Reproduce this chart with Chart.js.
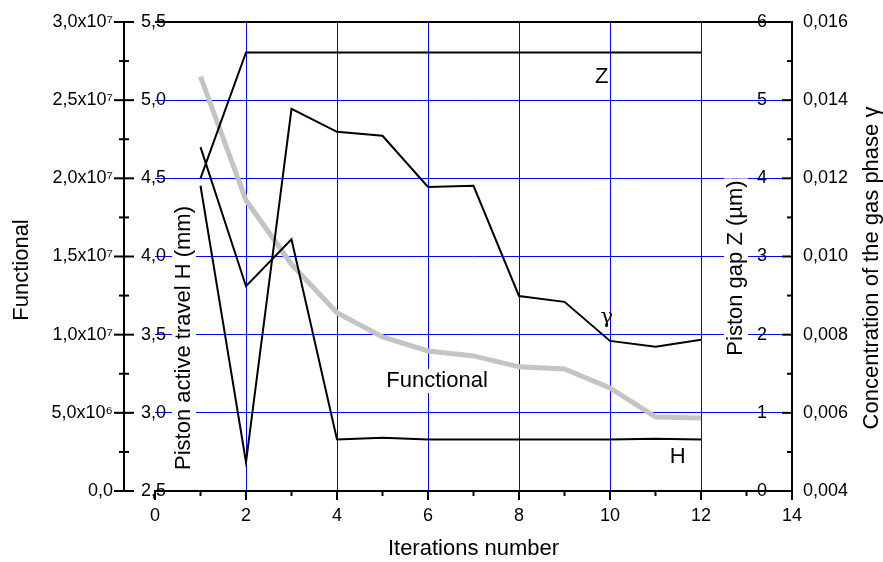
<!DOCTYPE html>
<html>
<head>
<meta charset="utf-8">
<script src="https://cdn.jsdelivr.net/npm/chart.js@4/dist/chart.umd.min.js"></script>
<style>
  html, body { margin: 0; padding: 0; background: #fff; }
</style>
</head>
<body>
<canvas id="chart" width="883" height="562"></canvas>
<script>
// data
const iterations = [1, 2, 3, 4, 5, 6, 7, 8, 9, 10, 11, 12];
const functionalValues = [2.65e7, 1.86e7, 1.45e7, 1.14e7, 9.86e6, 8.96e6, 8.64e6, 7.94e6, 7.81e6, 6.59e6, 4.74e6, 4.67e6];
const travelH = [4.70, 3.81, 4.11, 2.83, 2.84, 2.83, 2.83, 2.83, 2.83, 2.83, 2.835, 2.83];
const gapZ = [4.0, 5.61, 5.61, 5.61, 5.61, 5.61, 5.61, 5.61, 5.61, 5.61, 5.61, 5.61];
const gasGamma = [0.01181, 0.00474, 0.01378, 0.01319, 0.01309, 0.01178, 0.01181, 0.00899, 0.00884, 0.00784, 0.00769, 0.00787];

// curve labels: [text, x value, axis, axis value]
const curveLabels = [
    ['Z', 9.82, 'yZ', 5.30],
    ['\u03B3', 9.93, 'yG', 0.00843],
    ['Functional', 6.2, 'yF', 7.04e6],
    ['H', 11.49, 'yH', 2.718]
];

const FONT = '"Liberation Sans", Arial, sans-serif';
const BLUE = '#0000ff';

function comma(v, digits) {
    return v.toFixed(digits).replace('.', ',');
}

// 3,0x10^7 style labels
function sciLabel(v) {
    if (v === 0) return '0,0';
    const sup = { 6: '\u2076', 7: '\u2077' };
    const exp = Math.floor(Math.log10(v) + 1e-9);
    return comma(v / Math.pow(10, exp), 1) + 'x10' + sup[exp];
}

function seg(ctx, x1, y1, x2, y2) {
    ctx.beginPath();
    ctx.moveTo(x1, y1);
    ctx.lineTo(x2, y2);
    ctx.stroke();
}

function vText(ctx, text, x, y, box) {
    ctx.save();
    ctx.translate(x, y);
    ctx.rotate(-Math.PI / 2);
    ctx.font = '22px ' + FONT;
    ctx.textAlign = 'center';
    ctx.textBaseline = 'middle';
    if (box) {
        const w = ctx.measureText(text).width;
        ctx.fillStyle = '#fff';
        ctx.fillRect(-w / 2 - 2, -12, w + 4, 24);
    }
    ctx.fillStyle = '#000';
    ctx.fillText(text, 0, 0);
    ctx.restore();
}

// axis titles and curve labels
const labelsPlugin = {
    id: 'labels',
    beforeDatasetsDraw(chart) {
        const ctx = chart.ctx;
        vText(ctx, 'Functional', 22, 270, false);
        vText(ctx, 'Piston active travel H (mm)', 184, 338, true);
        vText(ctx, 'Piston gap Z (\u00B5m)', 736, 268, true);
        vText(ctx, 'Concentration of the gas phase \u03B3', 872, 268, false);

        ctx.save();
        ctx.textAlign = 'center';
        ctx.textBaseline = 'middle';
        curveLabels.forEach(l => {
            const px = chart.scales.x.getPixelForValue(l[1]);
            const py = chart.scales[l[2]].getPixelForValue(l[3]);
            ctx.font = l[0] === '\u03B3' ? '21px "DejaVu Serif", serif' : '22px ' + FONT;
            if (l[0] === 'Functional') {
                const w = ctx.measureText(l[0]).width;
                ctx.fillStyle = '#fff';
                ctx.fillRect(px - w / 2 - 2, py - 12, w + 4, 24);
            }
            ctx.fillStyle = '#000';
            ctx.fillText(l[0], px, py);
        });
        ctx.restore();
    },
    afterDraw(chart) {
        const ctx = chart.ctx;
        const a = chart.chartArea;
        const s = chart.scales;
        ctx.save();
        ctx.strokeStyle = '#000';
        ctx.lineWidth = 2;
        seg(ctx, a.left, a.top, a.right + 1, a.top);
        // x ticks, major every 2
        for (let v = 0; v <= 14; v++) {
            const px = s.x.getPixelForValue(v);
            seg(ctx, px, a.bottom, px, a.bottom + (v % 2 ? 5 : 9));
        }
        // functional ticks cross the axis line
        const fx = s.yF.right;
        for (let i = 0; i <= 12; i++) {
            const py = s.yF.getPixelForValue(i * 2.5e6);
            const len = i % 2 ? 5 : 10;
            seg(ctx, fx - len, py, fx + len, py);
        }
        // gamma ticks point inward
        const gx = s.yG.left;
        for (let i = 0; i <= 12; i++) {
            const py = s.yG.getPixelForValue(0.004 + i * 0.001);
            seg(ctx, gx - (i % 2 ? 5 : 10), py, gx, py);
        }

        // H and Z tick labels sit on the plot edges
        ctx.fillStyle = '#000';
        ctx.font = '18px ' + FONT;
        ctx.textBaseline = 'middle';
        ctx.textAlign = 'right';
        s.yH.ticks.forEach(t => {
            ctx.fillText(comma(t.value, 1), a.left + 11, s.yH.getPixelForValue(t.value));
        });
        ctx.textAlign = 'center';
        s.yZ.ticks.forEach(t => {
            ctx.fillText(String(t.value), a.right - 30, s.yZ.getPixelForValue(t.value));
        });
        ctx.restore();
    }
};

function points(ys) {
    return iterations.map((x, i) => ({ x: x, y: ys[i] }));
}

const tickFont = { family: FONT, size: 18 };

new Chart(document.getElementById('chart'), {
    type: 'line',
    data: {
        datasets: [
            { data: points(gapZ), yAxisID: 'yZ', borderColor: '#000', borderWidth: 2, order: 1 },
            { data: points(travelH), yAxisID: 'yH', borderColor: '#000', borderWidth: 2, order: 1 },
            { data: points(gasGamma), yAxisID: 'yG', borderColor: '#000', borderWidth: 2, order: 1 },
            { data: points(functionalValues), yAxisID: 'yF', borderColor: '#c4c4c4', borderWidth: 5, order: 5 }
        ]
    },
    options: {
        responsive: false,
        animation: false,
        devicePixelRatio: 1,
        layout: { padding: { top: 22, left: 0, right: 0, bottom: 0 } },
        elements: { point: { radius: 0 }, line: { tension: 0, borderCapStyle: 'butt' } },
        plugins: { legend: { display: false }, tooltip: { enabled: false } },
        scales: {
            x: {
                type: 'linear', min: 0, max: 14,
                ticks: { stepSize: 2, font: tickFont, color: '#000', padding: 14, maxRotation: 0 },
                grid: { color: c => (c.tick.value === 0 || c.tick.value === 14) ? 'rgba(0,0,0,0)' : BLUE, drawTicks: false },
                border: { display: true, color: '#000', width: 2 },
                title: { display: true, text: 'Iterations number', font: { family: FONT, size: 22 }, color: '#000', padding: { top: 0, bottom: 0 } },
                afterFit: sc => { sc.height = 71; }
            },
            yH: {
                position: 'left', min: 2.5, max: 5.5,
                ticks: { stepSize: 0.5, display: false },
                grid: { color: c => (c.tick.value === 2.5 || c.tick.value === 5.5) ? 'rgba(0,0,0,0)' : BLUE, drawTicks: false },
                border: { display: false },
                afterFit: sc => { sc.width = 31; }
            },
            yF: {
                position: 'left', min: 0, max: 3e7,
                ticks: { stepSize: 5e6, font: tickFont, color: '#000', padding: 11, callback: v => sciLabel(v) },
                grid: { drawOnChartArea: false, drawTicks: false },
                border: { display: true, color: '#000', width: 2 },
                afterFit: sc => { sc.width = 124; }
            },
            yZ: {
                position: 'right', min: 0, max: 6,
                ticks: { stepSize: 1, display: false },
                grid: { display: false, drawTicks: false },
                border: { display: false },
                afterFit: sc => { sc.width = 0; }
            },
            yG: {
                position: 'right', min: 0.004, max: 0.016,
                ticks: { stepSize: 0.002, font: tickFont, color: '#000', padding: 11, callback: v => comma(v, 3) },
                grid: { drawOnChartArea: false, drawTicks: false },
                border: { display: true, color: '#000', width: 2 },
                afterFit: sc => { sc.width = 91; }
            }
        }
    },
    plugins: [labelsPlugin]
});
</script>
</body>
</html>
